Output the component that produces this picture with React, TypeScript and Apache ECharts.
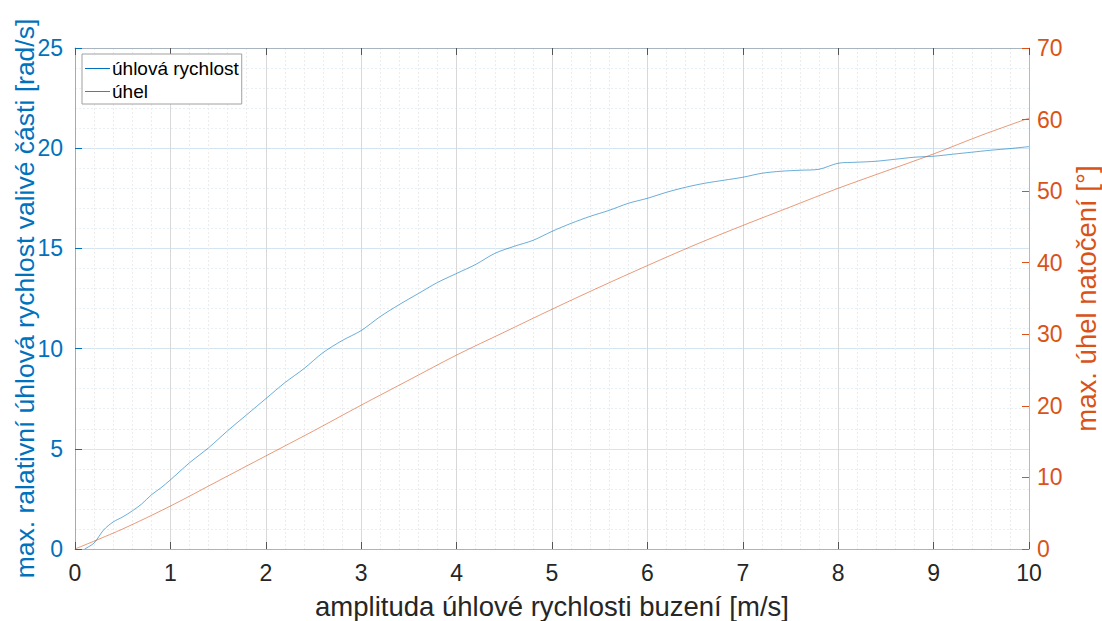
import React, { useEffect, useRef } from "react";
import * as echarts from "echarts";

// amplitude of excitation angular velocity [m/s]
const xRychlost = [0.1, 0.2, 0.3, 0.4, 0.5, 0.6, 0.7, 0.8, 0.9, 1.0, 1.2, 1.4, 1.6, 1.8, 2.0, 2.2, 2.4, 2.6, 2.8, 3.0, 3.2, 3.4, 3.6, 3.8, 4.0, 4.2, 4.4, 4.6, 4.8, 5.0, 5.2, 5.4, 5.6, 5.8, 6.0, 6.2, 6.4, 6.6, 6.8, 7.0, 7.2, 7.4, 7.6, 7.8, 8.0, 8.2, 8.4, 8.6, 8.8, 9.0, 9.2, 9.4, 9.6, 9.8, 10.0];
// max relative angular velocity of the rolling part [rad/s]
const yRychlost = [0.0, 0.3, 0.95, 1.35, 1.6, 1.9, 2.25, 2.7, 3.05, 3.45, 4.3, 5.05, 5.9, 6.7, 7.5, 8.3, 9.0, 9.8, 10.4, 10.9, 11.6, 12.2, 12.75, 13.3, 13.75, 14.2, 14.75, 15.1, 15.4, 15.85, 16.25, 16.6, 16.9, 17.25, 17.5, 17.8, 18.05, 18.25, 18.4, 18.55, 18.75, 18.85, 18.9, 18.95, 19.25, 19.3, 19.35, 19.45, 19.55, 19.6, 19.7, 19.8, 19.9, 19.98, 20.08];

const xUhel = [0, 0.5, 1.0, 1.5, 2.0, 2.5, 3.0, 3.5, 4.0, 4.5, 5.0, 5.5, 6.0, 6.5, 7.0, 7.5, 8.0, 8.5, 9.0, 9.5, 10.0];
// max rotation angle [°]
const yUhel = [0, 2.8, 6.0, 9.5, 13.0, 16.5, 20.1, 23.6, 27.1, 30.3, 33.5, 36.6, 39.6, 42.5, 45.2, 47.8, 50.4, 52.8, 55.2, 57.8, 60.2];

const xTicks = { min: 0, max: 10, interval: 1 };
const leftTicks = { min: 0, max: 25, interval: 5 };
const rightTicks = { min: 0, max: 70, interval: 10 };

const BLUE = "#0072BD";
const ORANGE = "#D95319";
const FONT = "Liberation Sans";
const TICK_FONT = 23;
const TITLE_FONT = 27.5;

export default function App() {
  const ref = useRef<HTMLDivElement>(null);

  useEffect(() => {
    if (!ref.current) return;
    const chart = echarts.init(ref.current, undefined, { renderer: "svg" });
    chart.setOption({
      animation: false,
      backgroundColor: "#ffffff",
      textStyle: { fontFamily: FONT },
      grid: { left: 75, right: 73, top: 48, bottom: 72, outerBoundsMode: "none", containLabel: false },
      legend: {
        orient: "vertical",
        left: 82,
        top: 54,
        padding: [5, 3, 3, 3],
        itemGap: 4,
        itemWidth: 25,
        itemHeight: 1,
        backgroundColor: "#ffffff",
        borderColor: "#a0a0a0",
        borderWidth: 1,
        borderRadius: 0,
        textStyle: { fontFamily: FONT, fontSize: 19, color: "#000", padding: [0, 0, 0, -3] },
        data: [
          { name: "úhlová rychlost", icon: "rect" },
          { name: "úhel", icon: "rect" },
        ],
      },
      xAxis: [
        {
          type: "value",
          ...xTicks,
          name: "amplituda úhlové rychlosti buzení [m/s]",
          nameLocation: "middle",
          nameGap: 43,
          nameMoveOverlap: false,
          nameTextStyle: { fontFamily: FONT, fontSize: TITLE_FONT, color: "#262626" },
          axisLine: { onZero: false, lineStyle: { color: "#a8b4c0", width: 1 } },
          axisTick: { inside: true, length: 7, lineStyle: { color: "#555" } },
          minorTick: { show: false, splitNumber: 5 },
          axisLabel: { fontFamily: FONT, fontSize: TICK_FONT, color: "#262626", margin: 12 },
          splitLine: { show: true, lineStyle: { color: "#d8d8d8", width: 1 } },
          minorSplitLine: { show: true, lineStyle: { color: "#ececec", type: [2, 2], width: 1 } },
        },
        {
          type: "value",
          position: "top",
          ...xTicks,
          axisLine: { onZero: false, lineStyle: { color: "#a8b4c0", width: 1 } },
          axisTick: { inside: true, length: 7, lineStyle: { color: "#555" } },
          axisLabel: { show: false },
          splitLine: { show: false },
        },
      ],
      yAxis: [
        {
          type: "value",
          position: "left",
          ...leftTicks,
          name: "max. ralativní úhlová rychlost valivé části [rad/s]",
          nameLocation: "middle",
          nameGap: 37,
          nameMoveOverlap: false,
          nameRotate: 90,
          nameTextStyle: { fontFamily: FONT, fontSize: 26.5, color: BLUE },
          axisLine: { show: true, onZero: false, lineStyle: { color: "#7fb6dd", width: 1 } },
          axisTick: { show: true, inside: true, length: 7, lineStyle: { color: BLUE } },
          axisLabel: { fontFamily: FONT, fontSize: TICK_FONT, color: BLUE, margin: 12 },
          splitLine: { show: true, lineStyle: { color: "#d3e4f2", width: 1 } },
          minorTick: { show: false, splitNumber: 5 },
          minorSplitLine: { show: true, lineStyle: { color: "#e7eff7", type: [2, 2], width: 1 } },
        },
        {
          type: "value",
          position: "right",
          ...rightTicks,
          name: "max. úhel natočení [°]",
          nameLocation: "middle",
          nameGap: 43,
          nameMoveOverlap: false,
          nameRotate: 90,
          nameTextStyle: { fontFamily: FONT, fontSize: TITLE_FONT, color: ORANGE, verticalAlign: "top" },
          axisLine: { show: true, onZero: false, lineStyle: { color: "#eca88a", width: 1 } },
          axisTick: { show: true, inside: true, length: 7, lineStyle: { color: ORANGE } },
          axisLabel: { fontFamily: FONT, fontSize: TICK_FONT, color: ORANGE, margin: 8 },
          splitLine: { show: false },
        },
      ],
      series: [
        {
          name: "úhlová rychlost",
          type: "line",
          xAxisIndex: 0,
          yAxisIndex: 0,
          showSymbol: false,
          smooth: 0.3,
          color: BLUE,
          lineStyle: { color: BLUE, width: 0.9, opacity: 0.65 },
          data: xRychlost.map((x, i) => [x, yRychlost[i]]),
        },
        {
          name: "úhel",
          type: "line",
          xAxisIndex: 0,
          yAxisIndex: 1,
          showSymbol: false,
          smooth: 0.3,
          color: ORANGE,
          lineStyle: { color: ORANGE, width: 0.9, opacity: 0.65 },
          data: xUhel.map((x, i) => [x, yUhel[i]]),
        },
      ],
    });
    return () => chart.dispose();
  }, []);

  return <div ref={ref} style={{ width: 1102, height: 621, position: "absolute", left: 0, top: 0 }} />;
}
